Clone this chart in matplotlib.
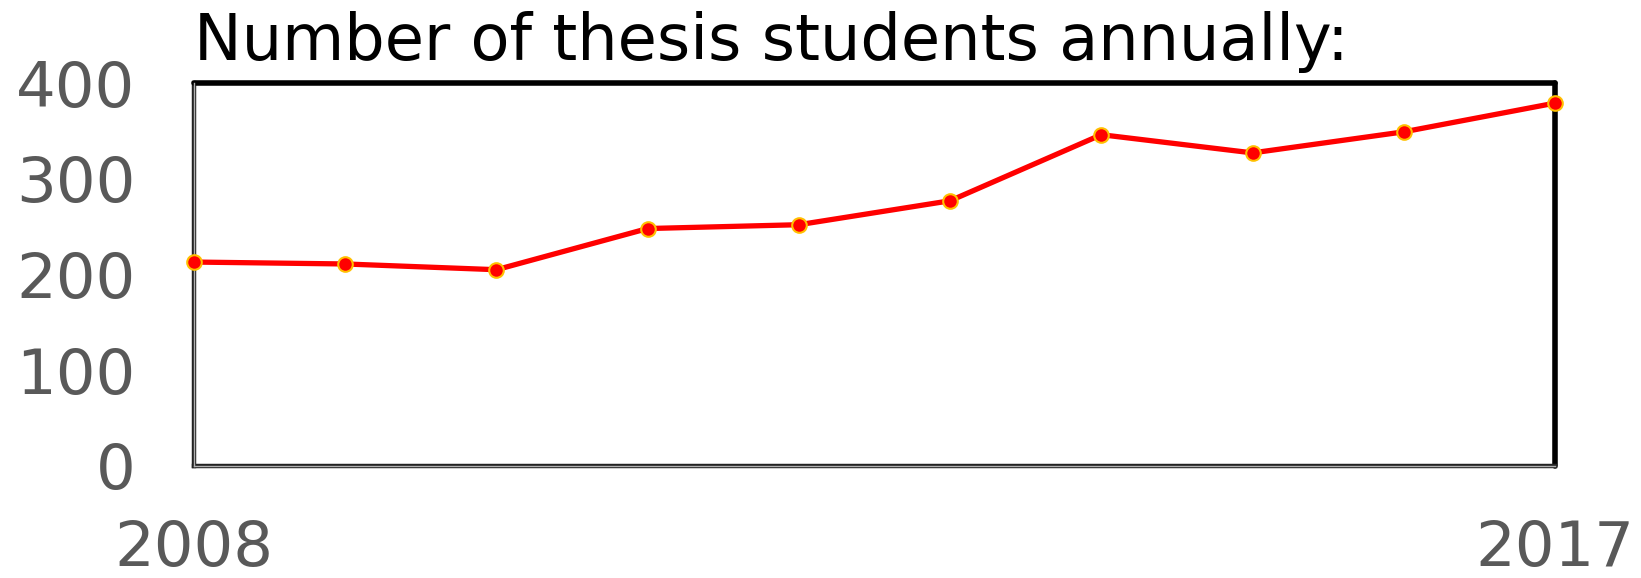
import numpy as np
import matplotlib.pyplot as plt

years = [2008, 2009, 2010, 2011, 2012, 2013, 2014, 2015, 2016, 2017]
students = [213, 211, 205, 248, 252, 277, 346, 327, 349, 379]
y_ticks = [0, 100, 200, 300, 400]
x_ticks = [2008, 2017]
title = "Number of thesis students annually:"

W, H = 1641, 578
fig = plt.figure(figsize=(W / 100, H / 100), dpi=100)
ax = fig.add_axes([194 / W, 1 - 466 / H, (1555 - 194) / W, (466 - 83) / H])

ax.plot(years, students, "-o", color="#ff0000", lw=3.8,
        markersize=10.5, markerfacecolor="#ff0000",
        markeredgecolor="#ffc000", markeredgewidth=1.5,
        zorder=4, clip_on=False)

ax.set_xlim(2008, 2017)
ax.set_ylim(0, 400)
ax.set_xticks(x_ticks)
ax.set_xticklabels([str(v) for v in x_ticks])
ax.set_yticks(y_ticks)
ax.tick_params(length=0, labelsize=45, labelcolor="#595959")
ax.tick_params(axis="y", pad=42)
ax.tick_params(axis="x", pad=38)

# frame: heavy top/right, double line left/bottom
for side in ("top", "right"):
    ax.spines[side].set_linewidth(4.0)
    ax.spines[side].set_color("black")
    ax.spines[side].set_capstyle("round")
for side in ("left", "bottom"):
    ax.spines[side].set_linewidth(3.2)
    ax.spines[side].set_color("#222222")
ax.axvline(2008, color="#b0b0b0", lw=1.0, zorder=3, clip_on=False)
ax.axhline(0, color="#b0b0b0", lw=1.0, zorder=3, clip_on=False)

fig.text(194 / W, 1 - 60 / H, title, fontsize=46, color="black",
         ha="left", va="baseline")

fig.savefig("out.png", dpi=100)
